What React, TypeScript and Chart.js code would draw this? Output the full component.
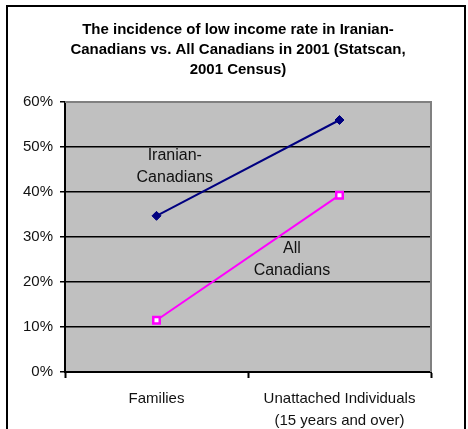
import React, { useEffect, useRef } from 'react';
import { Chart, registerables } from 'chart.js';

Chart.register(...registerables);

const categories: (string | string[])[] = ['Families', ['Unattached Individuals', '(15 years and over)']];
const iranianValues = [34.7, 56.0];
const allCanadianValues = [11.5, 39.3];
const titleLines = [
  'The incidence of low income rate in Iranian-',
  'Canadians vs. All Canadians in 2001 (Statscan,',
  '2001 Census)',
];
const seriesNames = ['Iranian-Canadians', 'All Canadians'];
const yMin = 0;
const yMax = 60;
const yStep = 10;

// Anchors of the in-plot series labels, in data coordinates (category index, %)
const seriesLabelAnchors = [
  { lines: ['Iranian-', 'Canadians'], x: 0.1, y: 45.6 },
  { lines: ['All', 'Canadians'], x: 0.74, y: 25.0 },
];

const FONT = '"Liberation Sans", Arial, sans-serif';
const TITLE_SIZE = 15;
const TITLE_LH = 20;

const plotPlugin = {
  id: 'plotDecor',
  beforeDraw(chart: any) {
    const { ctx, chartArea: a } = chart;
    ctx.save();
    ctx.fillStyle = '#C0C0C0';
    ctx.fillRect(a.left, a.top, a.right - a.left, a.bottom - a.top);
    ctx.restore();
  },
  afterDatasetsDraw(chart: any) {
    const { ctx, chartArea: a, scales } = chart;
    ctx.save();
    ctx.strokeStyle = '#808080';
    ctx.lineWidth = 2;
    ctx.beginPath();
    ctx.moveTo(a.left, a.top);
    ctx.lineTo(a.right, a.top);
    ctx.lineTo(a.right, a.bottom);
    ctx.stroke();
    ctx.fillStyle = '#111';
    ctx.font = `16px ${FONT}`;
    ctx.textAlign = 'center';
    ctx.textBaseline = 'middle';
    const lh = 22;
    for (const lab of seriesLabelAnchors) {
      const cx = scales.x.getPixelForValue(lab.x);
      const cy = scales.y.getPixelForValue(lab.y);
      const n = lab.lines.length;
      lab.lines.forEach((t, i) => {
        ctx.fillText(t, cx, cy + (i - (n - 1) / 2) * lh);
      });
    }
    // Chart title (the title box reserves the space; text centred on the page frame)
    const tb = chart.titleBlock;
    ctx.fillStyle = '#000';
    ctx.font = `bold ${TITLE_SIZE}px ${FONT}`;
    const tx = chart.width / 2 + 4;
    titleLines.forEach((t, i) => {
      ctx.fillText(t, tx, tb.top + TITLE_LH / 2 + i * TITLE_LH);
    });
    ctx.restore();
  },
};

export default function App() {
  const ref = useRef<HTMLCanvasElement>(null);
  useEffect(() => {
    if (!ref.current) return;
    const chart = new Chart(ref.current, {
      type: 'line',
      data: {
        labels: categories as any,
        datasets: [
          {
            label: seriesNames[0],
            data: iranianValues,
            borderColor: '#000080',
            backgroundColor: '#000080',
            borderWidth: 2,
            pointStyle: 'rectRot',
            pointRadius: 4.5,
            pointBorderWidth: 1,
            tension: 0,
          },
          {
            label: seriesNames[1],
            data: allCanadianValues,
            borderColor: '#FF00FF',
            backgroundColor: '#FFFFFF',
            borderWidth: 2,
            pointStyle: 'rect',
            pointRadius: 4.6,
            pointBorderWidth: 2.5,
            tension: 0,
          },
        ],
      },
      options: {
        responsive: false,
        animation: false,
        layout: { padding: { left: 8, right: 37, top: 20, bottom: 0 } },
        plugins: {
          legend: { display: false },
          tooltip: { enabled: false },
          title: {
            display: true,
            text: titleLines,
            color: 'rgba(0,0,0,0)',
            font: { family: FONT, size: TITLE_SIZE, weight: 'bold', lineHeight: TITLE_LH / TITLE_SIZE },
            padding: { top: 0, bottom: 22 },
          },
        },
        scales: {
          x: {
            offset: true,
            grid: {
              offset: true,
              drawOnChartArea: false,
              drawTicks: true,
              tickLength: 6,
              tickColor: '#000',
              tickWidth: 2,
            },
            border: { color: '#000', width: 2 },
            ticks: {
              color: '#111',
              padding: 10,
              maxRotation: 0,
              autoSkip: false,
              font: { family: FONT, size: 15, lineHeight: 22 / 15 },
            },
            afterFit(scale: any) {
              scale.height = 57;
            },
          },
          y: {
            min: yMin,
            max: yMax,
            grid: {
              color: (c: any) => (c.tick && c.tick.value === yMax ? '#808080' : '#000'),
              lineWidth: 1.5,
              drawTicks: true,
              tickLength: 5,
              tickColor: '#000',
            },
            border: { color: '#000', width: 2 },
            ticks: {
              stepSize: yStep,
              color: '#111',
              padding: 7,
              font: { family: FONT, size: 15 },
              callback: (v: any) => `${v}%`,
            },
            afterFit(scale: any) {
              scale.width = 57;
            },
          },
        },
      },
      plugins: [plotPlugin],
    });
    return () => chart.destroy();
  }, []);
  return (
    <div style={{ position: 'absolute', left: 0, top: 0, width: 468, height: 429, overflow: 'hidden', background: '#fff' }}>
      <canvas ref={ref} width={468} height={429} style={{ position: 'absolute', left: 0, top: 0 }} />
      <div
        style={{
          position: 'absolute',
          left: 6,
          top: 5,
          width: 460,
          height: 440,
          border: '2px solid #000',
          boxSizing: 'border-box',
          pointerEvents: 'none',
        }}
      />
    </div>
  );
}
